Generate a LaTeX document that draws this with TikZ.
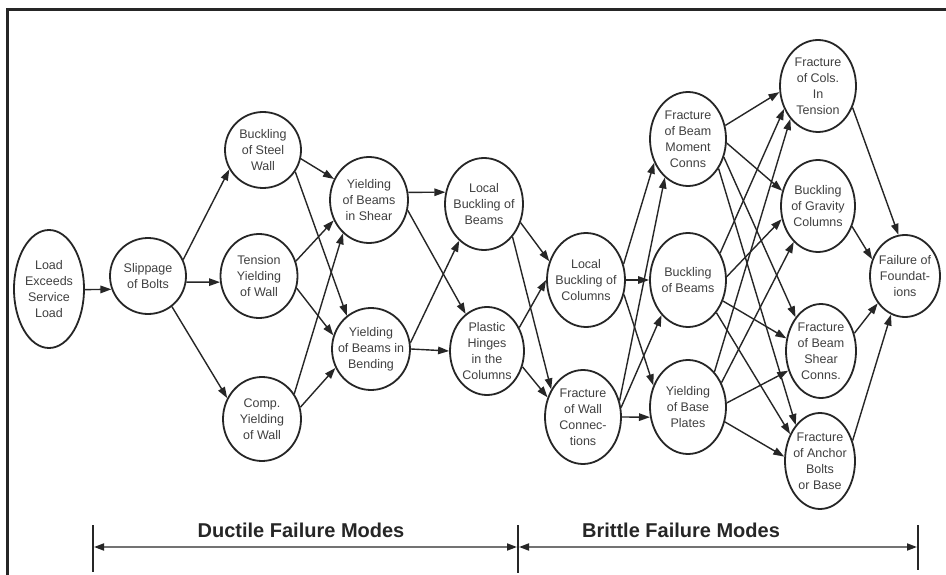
\documentclass[tikz,border=0pt]{standalone}
\usepackage{fontspec}
\setmainfont{Liberation Sans}
\usetikzlibrary{shapes.geometric,arrows.meta}
\tikzset{
  nd/.style 2 args={ellipse, draw=black!85, line width=1.8pt, minimum width=#1pt, minimum height=#2pt, inner sep=0pt},
  txt/.style={font=\fontsize{12.5}{16}\selectfont, align=center, text=black!75, inner sep=0pt},
  conn/.style={draw=black!85, line width=1.4pt, -{Triangle[length=11pt,width=7.5pt]}},
  dimline/.style={draw=black!55, line width=1.8pt, {Triangle[length=10pt,width=7pt,color=black!85]}-{Triangle[length=10pt,width=7pt,color=black!85]}},
  barline/.style={draw=black!85, line width=1.8pt},
  captext/.style={font=\fontsize{20}{24}\selectfont\bfseries, text=black!85, inner sep=0pt}
}
\begin{document}
\begin{tikzpicture}[x=1pt,y=-1pt]
\useasboundingbox (0,0) rectangle (946,575);
\fill[white] (0,0) rectangle (946,575);
\draw[line width=3pt, black!85] (7,575) -- (7,10) -- (946,10);

\node[nd={70}{118}, label={[txt]center:Load\\Exceeds\\Service\\Load}] (load) at (49,289) {};
\node[nd={76}{76}, label={[txt]center:Slippage\\of Bolts}] (slip) at (148,276) {};
\node[nd={76}{76}, label={[txt]center:Buckling\\of Steel\\Wall}] (bsw) at (263,150) {};
\node[nd={77}{84}, label={[txt]center:Tension\\Yielding\\of Wall}] (ten) at (259,276) {};
\node[nd={78}{84}, label={[txt]center:Comp.\\Yielding\\of Wall}] (comp) at (262,419) {};
\node[nd={78}{86}, label={[txt]center:Yielding\\of Beams\\in Shear}] (ysh) at (369,200) {};
\node[nd={78}{82}, label={[txt]center:Yielding\\of Beams in\\Bending}] (ybd) at (371,349) {};
\node[nd={78}{92}, label={[txt]center:Local\\Buckling of\\Beams}] (lbb) at (484,204) {};
\node[nd={74}{88}, label={[txt]center:Plastic\\Hinges\\in the\\Columns}] (ph) at (487,351) {};
\node[nd={78}{94}, label={[txt]center:Local\\Buckling of\\Columns}] (lbc) at (586,280) {};
\node[nd={76}{94}, label={[txt]center:Fracture\\of Wall\\Connec-\\tions}] (fwc) at (583,417) {};
\node[nd={76}{94}, label={[txt]center:Fracture\\of Beam\\Moment\\Conns}] (fbmc) at (688,139) {};
\node[nd={76}{94}, label={[txt]center:Buckling\\of Beams}] (bb) at (688,280) {};
\node[nd={76}{94}, label={[txt]center:Yielding\\of Base\\Plates}] (ybp) at (688,407) {};
\node[nd={76}{92}, label={[txt]center:Fracture\\of Cols.\\In\\Tension}] (fct) at (818,86) {};
\node[nd={74}{92}, label={[txt]center:Buckling\\of Gravity\\Columns}] (bgc) at (818,206) {};
\node[nd={70}{94}, label={[txt]center:Fracture\\of Beam\\Shear\\Conns.}] (fbsc) at (821,351) {};
\node[nd={70}{96}, label={[txt]center:Fracture\\of Anchor\\Bolts\\or Base}] (fab) at (820,461) {};
\node[nd={70}{82}, label={[txt]center:Failure of\\Foundat-\\ions}] (ff) at (905,276) {};

\draw[conn] (load.-1) -- (slip.200);
\draw[conn] (slip.25) -- (bsw.210);
\draw[conn] (slip.-9) -- (ten.189);
\draw[conn] (slip.-52) -- (comp.149);
\draw[conn] (bsw.-13) -- (ysh.149);
\draw[conn] (bsw.-34) -- (ybd.126);
\draw[conn] (ten.22) -- (ysh.210);
\draw[conn] (ten.-18) -- (ybd.160);
\draw[conn] (comp.38) -- (ysh.232);
\draw[conn] (comp.17) -- (ybd.208);
\draw[conn] (ysh.11) -- (lbb.163);
\draw[conn] (ysh.-15) -- (ph.120);
\draw[conn] (ybd.9) -- (lbb.236);
\draw[conn] (ybd.0) -- (ph.180);
\draw[conn] (lbb.-27) -- (lbc.153);
\draw[conn] (lbb.-49) -- (fwc.139);
\draw[conn] (ph.36) -- (lbc.180);
\draw[conn] (ph.-24) -- (fwc.151);
\draw[conn] (lbc.23) -- (fbmc.215);
\draw[conn] (lbc.east) -- (bb.west);
\draw[conn] (lbc.-21) -- (ybp.148);
\draw[conn] (fwc.24) -- (fbmc.239);
\draw[conn] (fwc.14) -- (bb.233);
\draw[conn] (fwc.0) -- (ybp.195);
\draw[conn] (fbmc.20) -- (fct.189);
\draw[conn] (fbmc.-6) -- (bgc.157);
\draw[conn] (fbmc.-27) -- (fbsc.127);
\draw[conn] (fbmc.-44) -- (fab.124);
\draw[conn] (bb.40) -- (fct.214);
\draw[conn] (bb.5) -- (bgc.200);
\draw[conn] (bb.-31) -- (fbsc.160);
\draw[conn] (bb.-49) -- (fab.138);
\draw[conn] (ybp.53) -- (fct.230);
\draw[conn] (ybp.36) -- (bgc.236);
\draw[conn] (ybp.6) -- (fbsc.211);
\draw[conn] (ybp.-22) -- (fab.173);
\draw[conn] (fct.-32) -- (ff.99);
\draw[conn] (bgc.-31) -- (ff.153);
\draw[conn] (fbsc.28) -- (ff.225);
\draw[conn] (fab.32) -- (ff.250);

\coordinate (b1) at (93,547);
\coordinate (b2) at (518,547);
\coordinate (b3) at (918,547);
\draw[barline] (93,525) -- (93,572);
\draw[barline] (518,525) -- (518,573);
\draw[barline] (918,525) -- (918,570);
\draw[dimline] ([xshift=1pt]b1) -- ([xshift=-1pt]b2);
\draw[dimline] ([xshift=1pt]b2) -- ([xshift=-1pt]b3);
\node[captext] (duct) at (301,530) {Ductile Failure Modes};
\node[captext] (brit) at (681,530) {Brittle Failure Modes};
\end{tikzpicture}
\end{document}
